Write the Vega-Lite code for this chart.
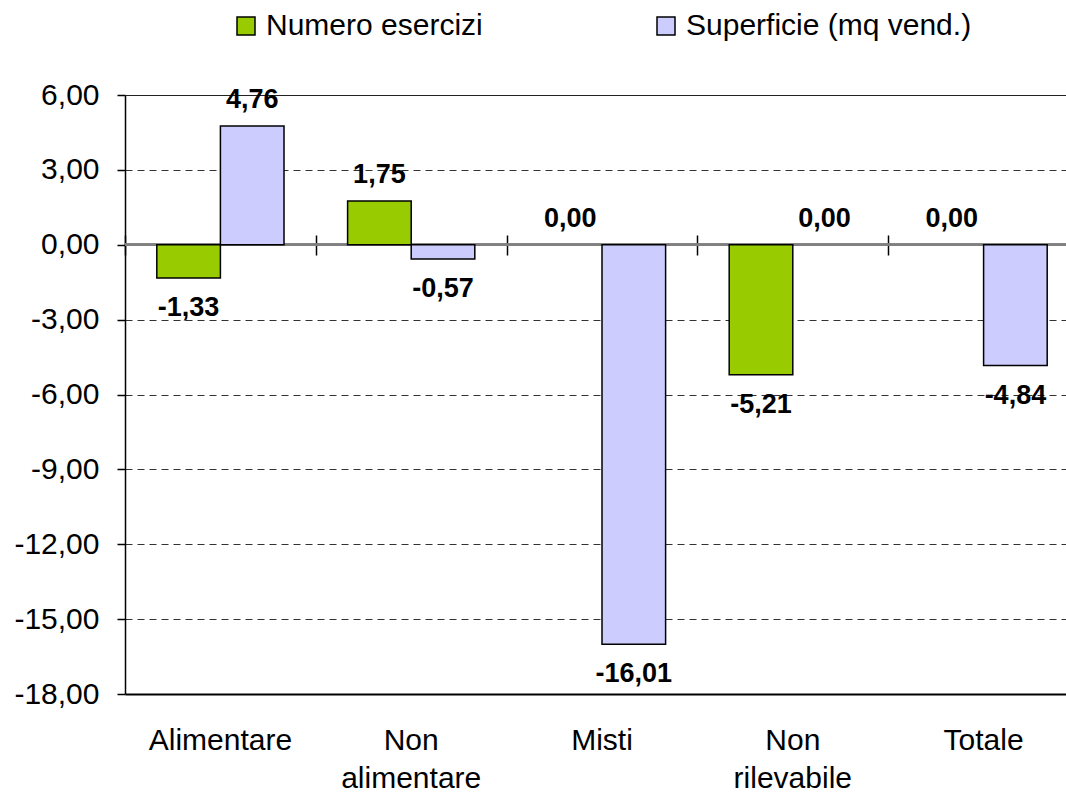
{
  "$schema": "https://vega.github.io/schema/vega-lite/v6.json",
  "width": 954,
  "height": 599,
  "autosize": {"type": "none"},
  "padding": {"left": 125, "top": 95, "right": -13, "bottom": 99},
  "background": "white",
  "config": {
    "locale": {"number": {"decimal": ",", "thousands": ".", "grouping": [3], "currency": ["", " €"], "minus": "-"}},
    "font": "Liberation Sans",
    "view": {"stroke": null}
  },
  "data": {
    "values": [
      {"Categoria": "Alimentare", "Serie": "Numero esercizi", "Valore": -1.33},
      {"Categoria": "Alimentare", "Serie": "Superficie (mq vend.)", "Valore": 4.76},
      {"Categoria": "Non alimentare", "Serie": "Numero esercizi", "Valore": 1.75},
      {"Categoria": "Non alimentare", "Serie": "Superficie (mq vend.)", "Valore": -0.57},
      {"Categoria": "Misti", "Serie": "Numero esercizi", "Valore": 0.0},
      {"Categoria": "Misti", "Serie": "Superficie (mq vend.)", "Valore": -16.01},
      {"Categoria": "Non rilevabile", "Serie": "Numero esercizi", "Valore": -5.21},
      {"Categoria": "Non rilevabile", "Serie": "Superficie (mq vend.)", "Valore": 0.0},
      {"Categoria": "Totale", "Serie": "Numero esercizi", "Valore": 0.0},
      {"Categoria": "Totale", "Serie": "Superficie (mq vend.)", "Valore": -4.84}
    ]
  },
  "layer": [
    {
      "mark": {"type": "rule", "color": "#808080", "strokeWidth": 2},
      "encoding": {"y": {"datum": 0, "type": "quantitative"}}
    },
    {
      "transform": [{"filter": "datum.Valore != 0"}],
      "mark": {"type": "bar", "stroke": "#000", "strokeWidth": 1.5},
      "encoding": {
        "x": {
          "field": "Categoria", "type": "nominal",
          "sort": ["Alimentare", "Non alimentare", "Misti", "Non rilevabile", "Totale"],
          "scale": {"paddingInner": 0.3333, "paddingOuter": 0.1667},
          "axis": {
            "orient": "bottom", "title": null, "ticks": false, "domain": true, "domainColor": "#000", "domainWidth": 2, "grid": false,
            "labelAngle": 0, "labelFontSize": 30, "labelColor": "#000", "labelPadding": 31,
            "labelLineHeight": 38, "labelLimit": 0,
            "labelExpr": "datum.value == 'Non alimentare' ? ['Non','alimentare'] : datum.value == 'Non rilevabile' ? ['Non','rilevabile'] : datum.value"
          }
        },
        "xOffset": {
          "field": "Serie", "type": "nominal",
          "sort": ["Numero esercizi", "Superficie (mq vend.)"],
          "scale": {"paddingInner": 0, "paddingOuter": 0}
        },
        "y": {
          "field": "Valore", "type": "quantitative",
          "scale": {"domain": [-18, 6], "nice": false},
          "axis": {
            "values": [-18, -15, -12, -9, -6, -3, 0, 3, 6], "format": ".2f", "title": null,
            "labelFontSize": 30, "labelColor": "#000", "labelPadding": 18,
            "tickSize": 8, "tickColor": "#000", "tickWidth": 1.5,
            "domainColor": "#000", "domainWidth": 1.5,
            "grid": true, "gridWidth": 1,
            "gridColor": {"condition": {"test": "datum.value == 6", "value": "#222"}, "value": "#333"},
            "gridDash": {"condition": {"test": "datum.value == 6", "value": []}, "value": [7, 5]},
            "gridOpacity": {"condition": {"test": "datum.value == 0 || datum.value == -18", "value": 0}, "value": 1}
          }
        },
        "color": {
          "field": "Serie", "type": "nominal",
          "scale": {"domain": ["Numero esercizi", "Superficie (mq vend.)"], "range": ["#99CC00", "#CCCCFF"]},
          "legend": {
            "title": null, "orient": "none", "legendX": 106, "legendY": -84, "direction": "horizontal",
            "symbolType": "square", "symbolSize": 324, "symbolStrokeColor": "#000", "symbolStrokeWidth": 1.5,
            "symbolOpacity": 1, "labelFontSize": 30, "labelColor": "#000", "labelOffset": 5,
            "columnPadding": 168, "labelLimit": 0
          }
        }
      }
    },
    {
      "transform": [{"filter": "datum.Valore >= 0"}],
      "mark": {"type": "text", "fontSize": 27, "fontWeight": "bold", "dy": -18, "baseline": "alphabetic", "align": "center", "color": "#000"},
      "encoding": {
        "x": {
          "field": "Categoria", "type": "nominal",
          "sort": ["Alimentare", "Non alimentare", "Misti", "Non rilevabile", "Totale"],
          "axis": {
            "orient": "top", "offset": -160, "title": null, "labels": false, "domain": false, "grid": false,
            "ticks": true, "tickSize": 20, "tickColor": "#000", "tickWidth": 1.5,
            "tickBand": "center", "bandPosition": 0.5, "tickOffset": -95.4
          }
        },
        "xOffset": {"field": "Serie", "type": "nominal", "sort": ["Numero esercizi", "Superficie (mq vend.)"]},
        "y": {"field": "Valore", "type": "quantitative"},
        "text": {"field": "Valore", "type": "quantitative", "format": ".2f"}
      }
    },
    {
      "transform": [{"filter": "datum.Valore < 0"}],
      "mark": {"type": "text", "fontSize": 27, "fontWeight": "bold", "dy": 38, "baseline": "alphabetic", "align": "center", "color": "#000"},
      "encoding": {
        "x": {
          "field": "Categoria", "type": "nominal",
          "sort": ["Alimentare", "Non alimentare", "Misti", "Non rilevabile", "Totale"],
          "axis": null
        },
        "xOffset": {"field": "Serie", "type": "nominal", "sort": ["Numero esercizi", "Superficie (mq vend.)"]},
        "y": {"field": "Valore", "type": "quantitative"},
        "text": {"field": "Valore", "type": "quantitative", "format": ".2f"}
      }
    }
  ],
  "resolve": {"axis": {"x": "independent"}}
}
